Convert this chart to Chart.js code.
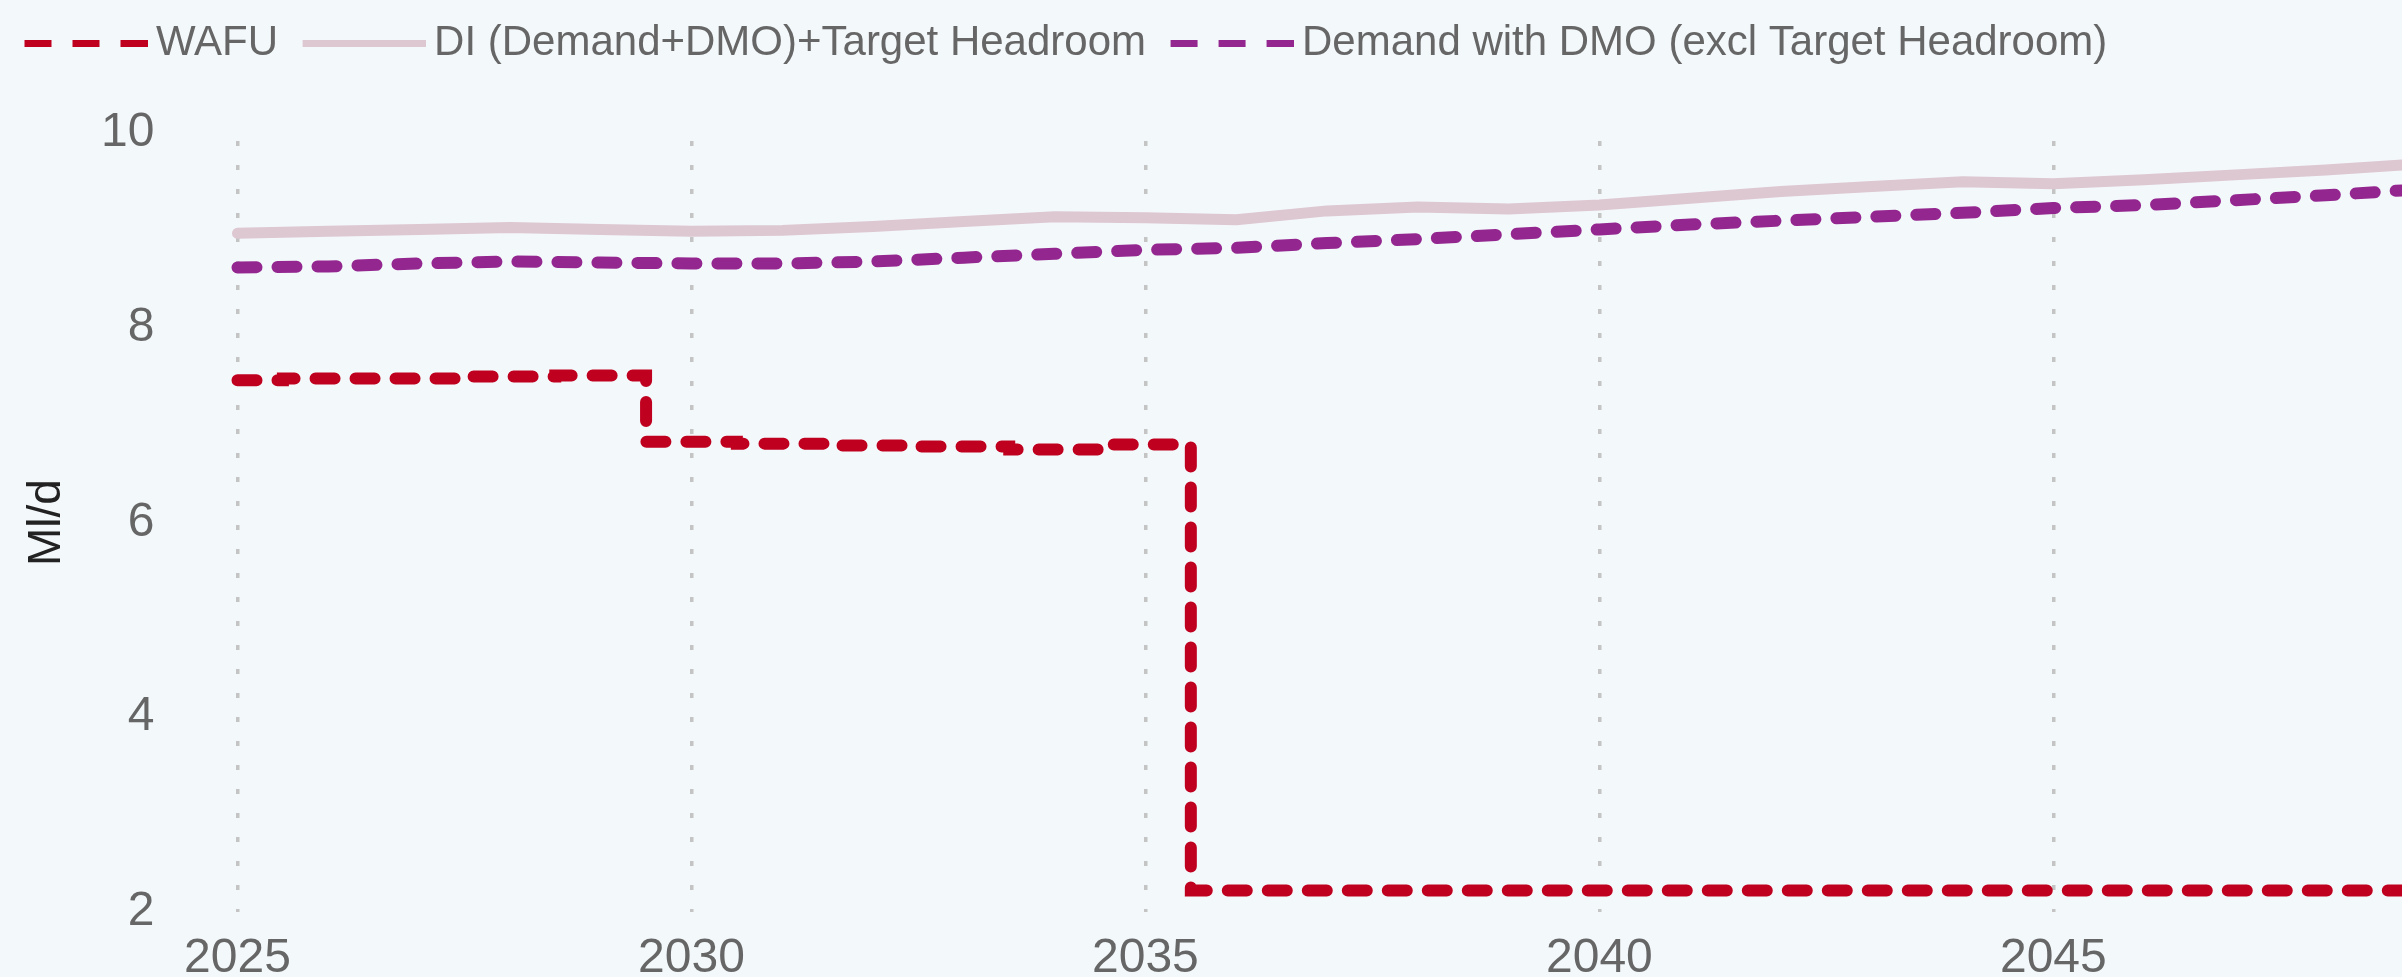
<!DOCTYPE html>
<html>
<head>
<meta charset="utf-8">
<title>WAFU vs Demand</title>
<script src="https://cdn.jsdelivr.net/npm/chart.js@4.4.1/dist/chart.umd.min.js"></script>
<style>
    html, body { margin: 0; padding: 0; background: #f3f8fb; }
    #wrap { position: relative; width: 2402px; height: 977px; }
</style>
</head>
<body>
<div id="wrap"><canvas id="supplyChart"></canvas></div>
<script>
// Chart data (Ml/d)
const years = [2025, 2026, 2027, 2028, 2029, 2030, 2031, 2032, 2033, 2034, 2035, 2036, 2037,
    2038, 2039, 2040, 2041, 2042, 2043, 2044, 2045, 2046, 2047, 2048, 2049];
const wafu = [7.46, 7.48, 7.48, 7.50, 7.51, 6.83, 6.81, 6.79, 6.78, 6.75, 6.80, 2.22, 2.22,
    2.22, 2.22, 2.22, 2.22, 2.22, 2.22, 2.22, 2.22, 2.22, 2.22, 2.22, 2.22];
const diHeadroom = [8.97, 8.99, 9.01, 9.03, 9.01, 8.99, 9.00, 9.04, 9.09, 9.14, 9.13, 9.11, 9.20,
    9.24, 9.22, 9.26, 9.33, 9.40, 9.45, 9.50, 9.48, 9.52, 9.57, 9.62, 9.68];
const demandDmo = [8.62, 8.63, 8.66, 8.68, 8.67, 8.66, 8.66, 8.68, 8.72, 8.76, 8.80, 8.82, 8.87,
    8.91, 8.96, 9.01, 9.06, 9.10, 9.14, 9.18, 9.23, 9.26, 9.31, 9.36, 9.42];
const seriesNames = ['WAFU', 'DI (Demand+DMO)+Target Headroom', 'Demand with DMO (excl Target Headroom)'];
const xTicks = [2025, 2030, 2035, 2040, 2045];
const yTicks = [2, 4, 6, 8, 10];

const RED = '#bf001f';
const PINK = '#ddc7d1';
const PURPLE = '#93278f';
const FONT = "'Liberation Sans', Arial, sans-serif";

// Legend swatch drawn as a small canvas so the line sits close to its label
const SWATCH_W = 140;
function makeSwatch(color, dashed) {
    const c = document.createElement('canvas');
    c.width = SWATCH_W;
    c.height = 7;
    const g = c.getContext('2d');
    g.fillStyle = color;
    const x0 = SWATCH_W - 123;
    if (!dashed) {
        g.fillRect(x0, 0, 123, 7);
    } else {
        for (let x = x0; x < SWATCH_W; x += 48) {
            g.fillRect(x, 0, Math.min(27, SWATCH_W - x), 7);
        }
    }
    return c;
}
const swatches = [makeSwatch(RED, true), makeSwatch(PINK, false), makeSwatch(PURPLE, true)];

function toPoints(values) {
    return years.map((yr, i) => ({ x: yr, y: values[i] }));
}

// Extra room under the legend, before the plot starts
const legendSpacer = {
    id: 'legendSpacer',
    beforeInit(chart) {
        const origFit = chart.legend.fit;
        chart.legend.fit = function fit() {
            origFit.bind(chart.legend)();
            this.height += 59;
        };
    }
};

const ctx = document.getElementById('supplyChart').getContext('2d');
const supplyChart = new Chart(ctx, {
    type: 'line',
    data: {
        datasets: [
            {
                label: seriesNames[0],
                data: toPoints(wafu),
                borderColor: RED,
                borderWidth: 12,
                borderDash: [19, 21],
                borderCapStyle: 'round',
                stepped: 'middle',
                pointRadius: 0,
                fill: false,
                clip: false
            },
            {
                label: seriesNames[1],
                data: toPoints(diHeadroom),
                borderColor: PINK,
                borderWidth: 11,
                borderCapStyle: 'round',
                borderJoinStyle: 'round',
                pointRadius: 0,
                tension: 0,
                fill: false,
                clip: false
            },
            {
                label: seriesNames[2],
                data: toPoints(demandDmo),
                borderColor: PURPLE,
                borderWidth: 12,
                borderDash: [19, 21],
                borderCapStyle: 'round',
                pointRadius: 0,
                tension: 0,
                fill: false,
                clip: false
            }
        ]
    },
    options: {
        responsive: true,
        maintainAspectRatio: false,
        animation: false,
        layout: { padding: { top: 2, left: 0, right: 0, bottom: 0 } },
        plugins: {
            legend: {
                position: 'top',
                align: 'start',
                labels: {
                    usePointStyle: true,
                    pointStyleWidth: 115,
                    padding: 20,
                    color: '#666666',
                    font: { family: FONT, size: 42 },
                    generateLabels(chart) {
                        const items = Chart.defaults.plugins.legend.labels.generateLabels(chart);
                        items.forEach(item => {
                            item.pointStyle = swatches[item.datasetIndex];
                        });
                        return items;
                    }
                }
            },
            tooltip: { enabled: false }
        },
        scales: {
            x: {
                type: 'linear',
                min: 2025,
                max: 2048.84,
                afterBuildTicks(scale) {
                    scale.ticks = xTicks.map(v => ({ value: v }));
                },
                afterFit(scale) {
                    scale.height = 65;
                },
                ticks: {
                    color: '#666666',
                    font: { family: FONT, size: 48 },
                    padding: 18,
                    maxRotation: 0,
                    callback: v => String(v)
                },
                grid: {
                    display: true,
                    color: '#c4c4c4',
                    lineWidth: 3.5,
                    drawTicks: false
                },
                border: { display: false, dash: [5, 19], dashOffset: 16 }
            },
            y: {
                min: 2,
                max: 10,
                afterBuildTicks(scale) {
                    scale.ticks = yTicks.map(v => ({ value: v }));
                },
                afterFit(scale) {
                    scale.width = 237.5;
                },
                ticks: {
                    color: '#666666',
                    font: { family: FONT, size: 48 },
                    padding: 8
                },
                // hidden tick marks keep the labels away from the plot
                grid: { display: false, drawTicks: true, tickLength: 75 },
                border: { display: false },
                title: {
                    display: true,
                    text: 'Ml/d',
                    color: '#222222',
                    font: { family: FONT, size: 46 },
                    padding: { top: 20, bottom: 0 }
                }
            }
        }
    },
    plugins: [legendSpacer]
});
</script>
</body>
</html>
